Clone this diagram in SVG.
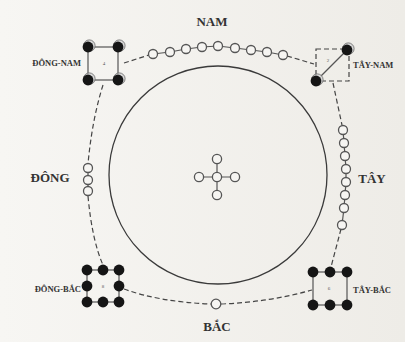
<svg xmlns="http://www.w3.org/2000/svg" width="405" height="342" viewBox="0 0 405 342">
<defs>
<linearGradient id="bg" x1="0" y1="0" x2="1" y2="0">
<stop offset="0" stop-color="#f7f6f3"/>
<stop offset="1" stop-color="#eeece7"/>
</linearGradient>
</defs>
<style>
.lbl{font-family:"Liberation Serif",serif;font-weight:bold;fill:#333}
.big{font-size:13px}
.sm{font-size:8.5px}
.tiny{font-family:"Liberation Serif",serif;font-size:5px;fill:#555}
.dash{fill:none;stroke:#444;stroke-width:1.2;stroke-dasharray:5 3}
.link{fill:none;stroke:#555;stroke-width:1.2}
.o{fill:#f6f5f2;stroke:#555;stroke-width:1.3}
.b{fill:#151515}
.hl{fill:#d8d8d8;stroke:#666;stroke-width:0.8}
</style>
<rect width="405" height="342" fill="url(#bg)"/>
<circle cx="218" cy="175" r="109" fill="none" stroke="#3a3a3a" stroke-width="1.3"/>

<g id="connectors">
<path class="dash" d="M124,63 L149,55"/>
<path class="dash" d="M287,56 L314,64"/>
<path class="dash" d="M103,85 Q92,120 88,164"/>
<path class="dash" d="M88,196 Q92,240 103,265"/>
<path class="dash" d="M124,289 Q160,302 211,304"/>
<path class="dash" d="M221,304 Q270,302 312,290"/>
<path class="dash" d="M333,83 L342,125"/>
<path class="dash" d="M341,229 L331,267"/>
</g>

<g id="nam">
<text class="lbl big" x="212" y="26" text-anchor="middle">NAM</text>
<polyline class="link" points="153,54 170,52 186,49 202,47 218,46 235,48 251,50 267,52 283,55"/>
<circle class="o" cx="153" cy="54" r="4.5"/>
<circle class="o" cx="170" cy="52" r="4.5"/>
<circle class="o" cx="186" cy="49" r="4.5"/>
<circle class="o" cx="202" cy="47" r="4.5"/>
<circle class="o" cx="218" cy="46" r="4.5"/>
<circle class="o" cx="235" cy="48" r="4.5"/>
<circle class="o" cx="251" cy="50" r="4.5"/>
<circle class="o" cx="267" cy="52" r="4.5"/>
<circle class="o" cx="283" cy="55" r="4.5"/>
</g>

<g id="dong-nam">
<rect x="88" y="47" width="30" height="33" fill="none" stroke="#555" stroke-width="1.2"/>
<circle class="hl" cx="89.3" cy="45.7" r="5.8"/>
<circle class="b" cx="88" cy="47" r="5.4"/>
<circle class="hl" cx="119.3" cy="45.7" r="5.8"/>
<circle class="b" cx="118" cy="47" r="5.4"/>
<circle class="hl" cx="89.3" cy="78.7" r="5.8"/>
<circle class="b" cx="88" cy="80" r="5.4"/>
<circle class="hl" cx="119.3" cy="78.7" r="5.8"/>
<circle class="b" cx="118" cy="80" r="5.4"/>
<text class="tiny" x="104" y="65" text-anchor="middle">4</text>
<text class="lbl sm" x="81" y="66" text-anchor="end">ĐÔNG-NAM</text>
</g>

<g id="tay-nam">
<rect x="316" y="49" width="33" height="32" class="dash" stroke-dasharray="4 2.5"/>
<line x1="316" y1="81" x2="347" y2="50" class="link"/>
<circle class="hl" cx="348.3" cy="48.7" r="5.8"/>
<circle class="b" cx="347" cy="50" r="5.4"/>
<circle class="hl" cx="317.3" cy="79.7" r="5.8"/>
<circle class="b" cx="316" cy="81" r="5.4"/>
<text class="tiny" x="328" y="62" text-anchor="middle">2</text>
<text class="lbl sm" x="353" y="68">TÂY-NAM</text>
</g>

<g id="dong">
<text class="lbl big" x="50" y="182" text-anchor="middle">ĐÔNG</text>
<polyline class="link" points="88,168 88,180 88,191"/>
<circle class="o" cx="88" cy="168" r="4.5"/>
<circle class="o" cx="88" cy="180" r="4.5"/>
<circle class="o" cx="88" cy="191" r="4.5"/>
</g>

<g id="tay">
<text class="lbl big" x="372" y="183" text-anchor="middle">TÂY</text>
<polyline class="link" points="343,130 344,143 345,156 346,169 346,182 345,195 344,208 342,225"/>
<circle class="o" cx="343" cy="130" r="4.5"/>
<circle class="o" cx="344" cy="143" r="4.5"/>
<circle class="o" cx="345" cy="156" r="4.5"/>
<circle class="o" cx="346" cy="169" r="4.5"/>
<circle class="o" cx="346" cy="182" r="4.5"/>
<circle class="o" cx="345" cy="195" r="4.5"/>
<circle class="o" cx="344" cy="208" r="4.5"/>
<circle class="o" cx="342" cy="225" r="4.5"/>
</g>

<g id="bac">
<circle class="o" cx="216" cy="304" r="4.8"/>
<text class="lbl big" x="217" y="331" text-anchor="middle">BẮC</text>
</g>

<g id="dong-bac">
<rect x="87" y="270" width="32" height="32" fill="none" stroke="#555" stroke-width="1.2"/>
<circle class="b" cx="87" cy="270" r="5.4"/>
<circle class="b" cx="103" cy="270" r="5.4"/>
<circle class="b" cx="119" cy="270" r="5.4"/>
<circle class="b" cx="87" cy="286" r="5.4"/>
<circle class="b" cx="119" cy="286" r="5.4"/>
<circle class="b" cx="87" cy="302" r="5.4"/>
<circle class="b" cx="103" cy="302" r="5.4"/>
<circle class="b" cx="119" cy="302" r="5.4"/>
<text class="tiny" x="103" y="288" text-anchor="middle">8</text>
<text class="lbl sm" x="81" y="292" text-anchor="end">ĐÔNG-BẮC</text>
</g>

<g id="tay-bac">
<rect x="313" y="272" width="34" height="33" fill="none" stroke="#555" stroke-width="1.2"/>
<circle class="b" cx="313" cy="272" r="5.4"/>
<circle class="b" cx="330" cy="272" r="5.4"/>
<circle class="b" cx="347" cy="272" r="5.4"/>
<circle class="b" cx="313" cy="305" r="5.4"/>
<circle class="b" cx="330" cy="305" r="5.4"/>
<circle class="b" cx="347" cy="305" r="5.4"/>
<text class="tiny" x="329" y="290" text-anchor="middle">6</text>
<text class="lbl sm" x="353" y="293">TÂY-BẮC</text>
</g>

<g id="center">
<line x1="217" y1="159" x2="217" y2="194" class="link"/>
<line x1="199" y1="177" x2="235" y2="177" class="link"/>
<circle class="o" cx="217" cy="177" r="4.6"/>
<circle class="o" cx="217" cy="159" r="4.6"/>
<circle class="o" cx="217" cy="195" r="4.6"/>
<circle class="o" cx="199" cy="177" r="4.6"/>
<circle class="o" cx="235" cy="177" r="4.6"/>
</g>
</svg>
